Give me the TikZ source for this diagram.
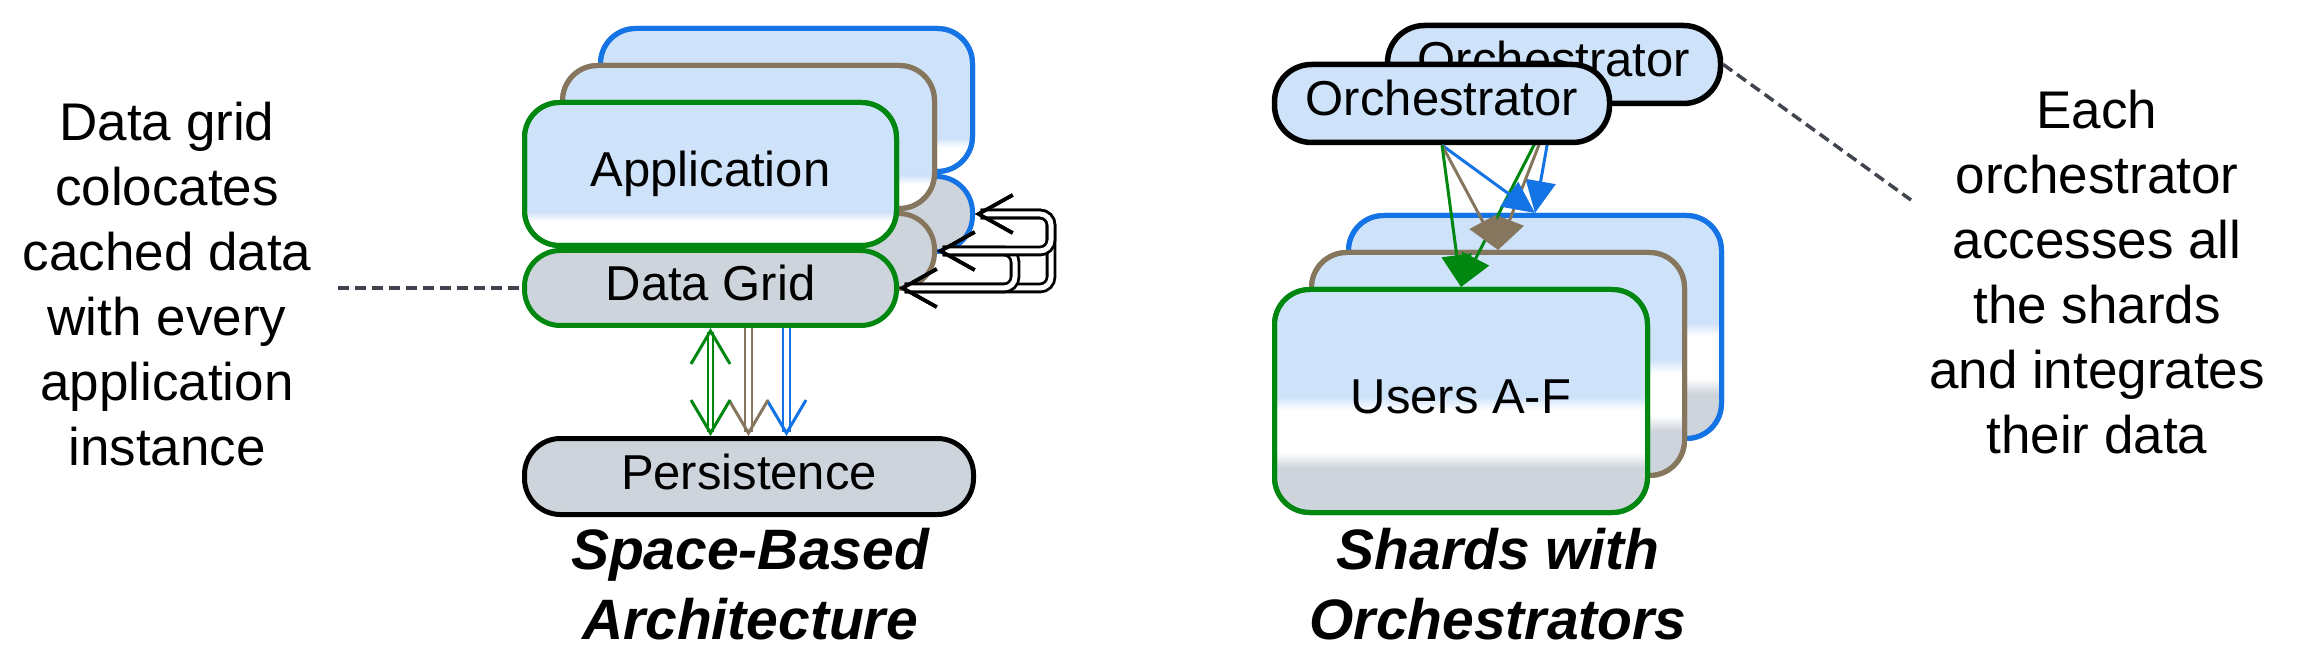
\documentclass[tikz,border=0pt]{standalone}
\usepackage{fontspec}
\setmainfont{Liberation Sans}
\usetikzlibrary{arrows.meta,calc,backgrounds}

\definecolor{lblue}{RGB}{206,226,250}
\definecolor{cgray}{RGB}{206,212,220}
\definecolor{cgreen}{RGB}{0,135,15}
\definecolor{cbrown}{RGB}{133,118,93}
\definecolor{cblue}{RGB}{20,115,229}
\definecolor{cdash}{RGB}{64,68,78}

\newcommand\myband[3]{\path[sharp corners,#3] ($(path picture bounding box.south west)!#1!(path picture bounding box.north west)$) rectangle ($(path picture bounding box.south east)!#2!(path picture bounding box.north east)$);}

\tikzset{
  box/.style={rectangle, rounded corners=35pt, line width=5pt, inner sep=0pt,
    font=\fontsize{49}{59}\selectfont, text height=35pt, text depth=10pt},
  appbox/.style={box, minimum width=372pt, minimum height=143pt, fill=lblue, draw=#1,
    path picture={\myband{0}{0.17}{fill=white}\myband{0.17}{0.235}{top color=lblue,bottom color=white}},
    postaction={draw=#1, line width=5pt}},
  dgbox/.style={box, rounded corners=36pt, minimum width=372pt, minimum height=75pt, fill=cgray, draw=#1},
  persbox/.style={box, rounded corners=36pt, minimum width=449pt, minimum height=76pt, fill=cgray, draw=black},
  shardbox/.style={box, minimum width=373pt, minimum height=223pt, fill=lblue, draw=#1,
    path picture={\myband{0}{0.20}{fill=cgray}\myband{0.20}{0.27}{top color=white,bottom color=cgray}\myband{0.27}{0.46}{fill=white}\myband{0.46}{0.52}{top color=lblue,bottom color=white}},
    postaction={draw=#1, line width=5pt}},
  orchbox/.style={box, rounded corners=37pt, minimum width=335pt, minimum height=78pt, fill=lblue, draw=black, line width=5.5pt},
  note/.style={align=center, inner sep=0pt, font=\fontsize{53}{65}\selectfont},
  title/.style={align=center, inner sep=0pt, font=\fontsize{57}{70}\selectfont\bfseries\itshape},
  dashline/.style={cdash, line width=3.5pt, dash pattern=on 11pt off 6pt},
  vbarb/.tip={Straight Barb[length=33pt,width=39pt,line width=3pt]},
  fbarb/.tip={Straight Barb[length=34pt,width=38pt,line width=3.6pt]},
  persarrow/.style={line width=2.7pt, double=white, double distance=4.5pt, vbarb-vbarb},
  fbarrow/.style={black, line width=2.8pt, double=white, double distance=5pt, rounded corners=11pt, fbarb-fbarb},
  orarrow/.style={line width=3pt, -{Triangle[length=32pt,width=30pt]}},
}

\begin{document}
\begin{tikzpicture}[x=1pt,y=-1pt]
\useasboundingbox (0,0) rectangle (2297,660);

% ---------- Space-Based Architecture ----------
\node[appbox=cblue] (uapp) at (786.5,100) {};
\node[dgbox=cblue] (udg) at (786.5,214) {};
\node[appbox=cbrown] (bapp) at (748.5,137) {};
\node[dgbox=cbrown] (bdg) at (748.5,251) {};
\node[appbox=cgreen] (gapp) at (710.5,174) {Application};
\node[dgbox=cgreen] (gdg) at (710.5,288) {Data Grid};
\node[persbox] (pers) at (749,476.5) {Persistence};

\begin{scope}[on background layer]
  \draw[persarrow, cblue] (udg.south) -- (udg.south |- pers.north);
  \draw[persarrow, cbrown] (bdg.south) -- (bdg.south |- pers.north);
  \draw[persarrow, cgreen, line width=2.3pt, double distance=2.3pt] (gdg.south) -- (gdg.south |- pers.north);
\end{scope}

\coordinate (xo) at (1051,0);
\coordinate (xi) at (1015,0);
\draw[fbarrow] (udg.east) -- (udg.east -| xo) -- (gdg.east -| xo) -- (gdg.east);
\draw[fbarrow] (bdg.east) -- (bdg.east -| xi) -- (gdg.east -| xi) -- (gdg.east);
\draw[fbarrow] (bdg.east) -- (bdg.east -| xo) -- (udg.east -| xo) -- (udg.east);

\node[note] (lnote) at (167,284) {Data grid\\colocates\\cached data\\with every\\application\\instance};
\coordinate (ldash) at (338,288);
\draw[dashline] (ldash) -- (gdg.west);

\node[title] (ltitle) at (750,584) {Space-Based\\Architecture};

% ---------- Shards with Orchestrators ----------
\node[shardbox=cblue] (ushard) at (1535,327) {};
\node[shardbox=cbrown] (bshard) at (1498,364) {};
\node[shardbox=cgreen] (gshard) at (1461,401) {Users A-F};

\node[orchbox, minimum width=333pt] (borch) at (1554,64.5) {Orchestrator};
\draw[orarrow, cblue] (borch.south) -- (ushard.north);
\draw[orarrow, cbrown] (borch.south) -- (bshard.north);
\draw[orarrow, cgreen] (borch.south) -- (gshard.north);

\node[orchbox] (forch) at (1442,103.5) {Orchestrator};
\draw[orarrow, cblue] (forch.south) -- (ushard.north);
\draw[orarrow, cbrown] (forch.south) -- (bshard.north);
\draw[orarrow, cgreen] (forch.south) -- (gshard.north);

\coordinate (rdash) at (1911,200);
\draw[dashline] (borch.east) -- (rdash);
\node[note] (rnote) at (2097,272) {Each\\orchestrator\\accesses all\\the shards\\and integrates\\their data};

\node[title] (rtitle) at (1498,584) {Shards with\\Orchestrators};
\end{tikzpicture}
\end{document}
